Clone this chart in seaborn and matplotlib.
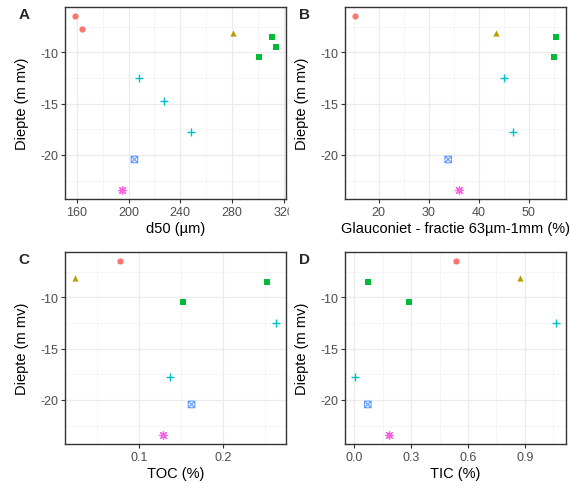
import matplotlib
matplotlib.use("Agg")
import matplotlib.pyplot as plt
import seaborn as sns
import numpy as np
import pandas as pd
from matplotlib.path import Path
from matplotlib.ticker import MultipleLocator, FormatStrFormatter
from matplotlib.patches import Rectangle

nan = np.nan

# Diepte (m mv) en laag van elk monster
diepte = [-6.45, -7.75, -8.15, -8.55, -9.45, -10.45, -12.5, -14.8, -17.75, -20.45, -23.45]
laag = ["1", "1", "2", "3", "3", "3", "4", "4", "4", "5", "6"]

# Gemeten variabelen per monster (nan = niet gemeten)
d50 = [158.7, 164.0, 280.5, 310.8, 313.9, 300.7, 207.9, 227.8, 247.9, 204.6, 194.8]
glauconiet = [15.3, nan, 43.5, 55.4, nan, 55.1, 45.0, nan, 46.8, 33.9, 36.1]
toc = [0.0775, nan, 0.0237, 0.2514, nan, 0.1526, 0.2625, nan, 0.1368, 0.1621, 0.128]
tic = [0.538, nan, 0.873, 0.0706, nan, 0.286, 1.064, nan, 0.0035, 0.0706, 0.185]

lagen = ["1", "2", "3", "4", "5", "6"]
kleuren = ["#F8766D", "#B79F00", "#00BA38", "#00BFC4", "#619CFF", "#F564E3"]

# Vierkant met kruis (ggplot shape 7)
box_x = Path(
    [(-1, -1), (1, -1), (1, 1), (-1, 1), (-1, -1), (-1, -1), (1, 1), (-1, 1), (1, -1)],
    [Path.MOVETO, Path.LINETO, Path.LINETO, Path.LINETO, Path.CLOSEPOLY,
     Path.MOVETO, Path.LINETO, Path.MOVETO, Path.LINETO],
)
vormen = ["o", "^", "s", "+", box_x, (8, 2, 0)]

df = pd.DataFrame({
    "diepte": diepte, "laag": laag, "d50": d50,
    "glauconiet": glauconiet, "toc": toc, "tic": tic,
})

sns.set_theme(style="white")
plt.rcParams["font.family"] = ["Liberation Sans", "DejaVu Sans"]
plt.rcParams["axes.unicode_minus"] = False

fig = plt.figure(figsize=(5.7, 4.85), dpi=100)

panelen = [
    ("A", "d50", "d50 (µm)", (65, 8), 40, 20),
    ("B", "glauconiet", "Glauconiet - fractie 63µm-1mm (%)", (345, 8), 10, 5),
    ("C", "toc", "TOC (%)", (65, 253), 0.1, 0.05),
    ("D", "tic", "TIC (%)", (345, 253), 0.3, 0.15),
]

for letter, kol, xlabel, (px, py), major, minor in panelen:
    ax = fig.add_axes([px / 570, 1 - (py + 192) / 485, 221 / 570, 192 / 485])
    sub = df.dropna(subset=[kol])
    for lg, kleur, vorm in zip(lagen, kleuren, vormen):
        d = sub[sub["laag"] == lg]
        if vorm == "+":
            sns.scatterplot(data=d, x=kol, y="diepte", marker="+", color=kleur,
                            s=40, linewidth=1.0, ax=ax, legend=False, zorder=3)
        elif vorm is box_x:
            sns.scatterplot(data=d, x=kol, y="diepte", marker=vorm, color=kleur,
                            facecolor="none", edgecolor=kleur, s=22, linewidth=0.8,
                            ax=ax, legend=False, zorder=3)
        elif isinstance(vorm, tuple):
            sns.scatterplot(data=d, x=kol, y="diepte", marker=vorm, color=kleur,
                            s=30, linewidth=0.9, ax=ax, legend=False, zorder=3)
        else:
            sns.scatterplot(data=d, x=kol, y="diepte", marker=vorm, color=kleur,
                            s=20, linewidth=0, ax=ax, legend=False, zorder=3)

    ax.xaxis.set_major_locator(MultipleLocator(major))
    ax.xaxis.set_minor_locator(MultipleLocator(minor))
    ax.yaxis.set_major_locator(MultipleLocator(5))
    ax.yaxis.set_minor_locator(MultipleLocator(2.5))
    ax.grid(True, which="major", color="#EBEBEB", linewidth=0.9)
    ax.grid(True, which="minor", color="#F2F2F2", linewidth=0.5)
    ax.set_axisbelow(True)
    for sp in ax.spines.values():
        sp.set_color("#333333")
        sp.set_linewidth(1.0)
    ax.tick_params(which="major", direction="out", length=3, width=0.8,
                   color="#333333", labelcolor="#4D4D4D", labelsize=9, pad=2,
                   bottom=True, left=True)
    ax.tick_params(which="minor", length=0)
    if kol == "tic":
        ax.xaxis.set_major_formatter(FormatStrFormatter("%.1f"))
    else:
        ax.xaxis.set_major_formatter(FormatStrFormatter("%g"))
    ax.set_xlabel(xlabel, fontsize=10.5, color="black", labelpad=2)
    ax.set_ylabel("Diepte (m mv)", fontsize=10.5, color="black")
    ax.yaxis.set_label_coords(-0.165, 0.5)
    fig.text((px - 41) / 570, 1 - (py + 7) / 485, letter, fontsize=11,
             fontweight="bold", ha="center", va="center")

# Paneel B dekt het laatste ticklabel van A deels af
fig.add_artist(Rectangle((289 / 570, 1 - 240 / 485), 12 / 570, 38 / 485,
                         transform=fig.transFigure, color="white", zorder=5))

fig.savefig("out.png", dpi=100)
